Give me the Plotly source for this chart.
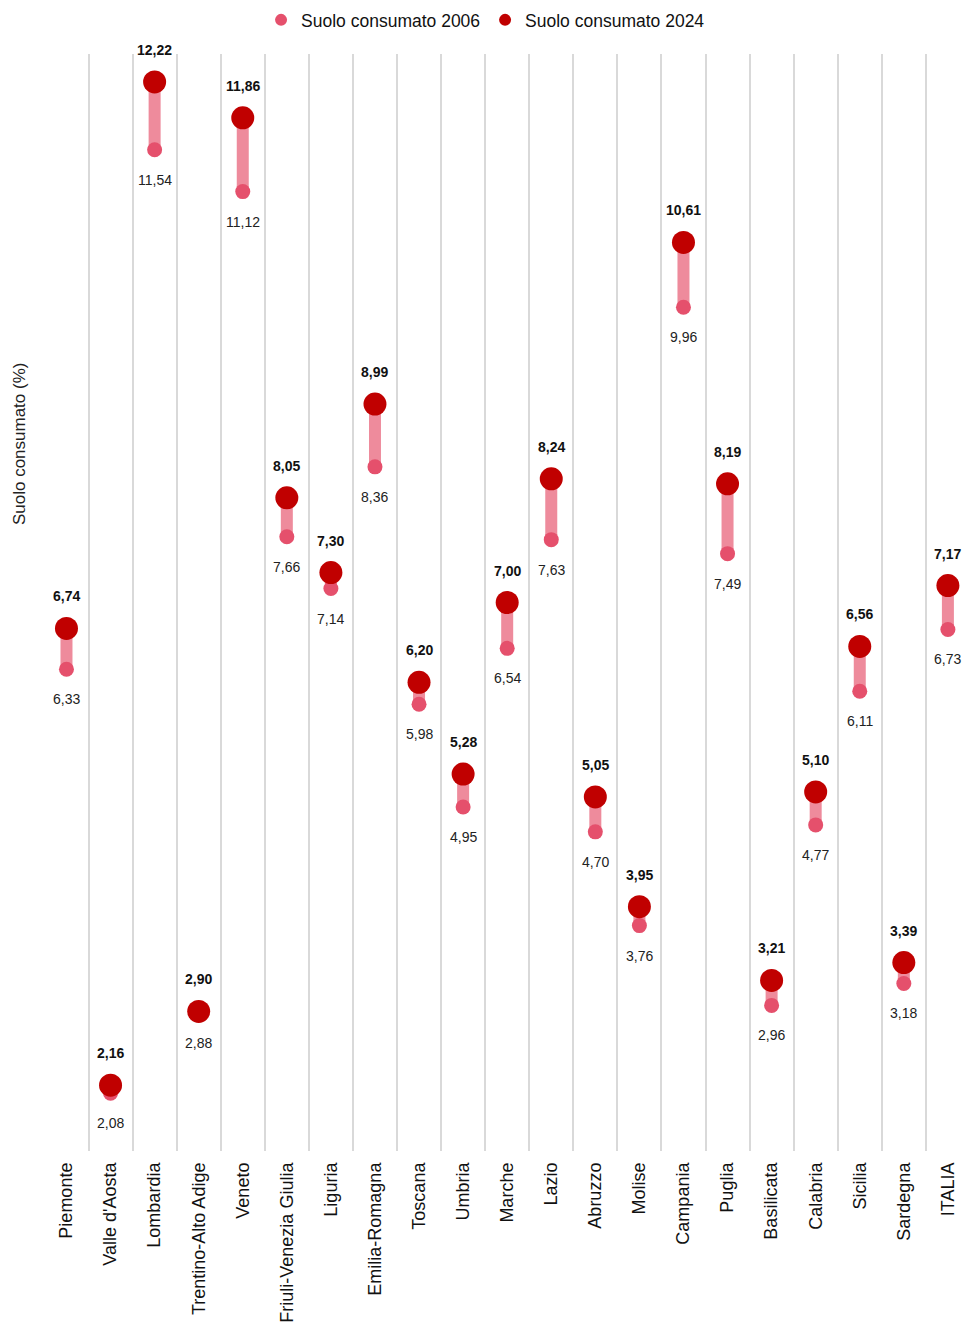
import plotly.graph_objects as go

regions = ["Piemonte", "Valle d'Aosta", "Lombardia", "Trentino-Alto Adige", "Veneto",
           "Friuli-Venezia Giulia", "Liguria", "Emilia-Romagna", "Toscana", "Umbria",
           "Marche", "Lazio", "Abruzzo", "Molise", "Campania", "Puglia", "Basilicata",
           "Calabria", "Sicilia", "Sardegna", "ITALIA"]
values_2006 = [6.33, 2.08, 11.54, 2.88, 11.12, 7.66, 7.14, 8.36, 5.98, 4.95, 6.54, 7.63,
               4.70, 3.76, 9.96, 7.49, 2.96, 4.77, 6.11, 3.18, 6.73]
values_2024 = [6.74, 2.16, 12.22, 2.90, 11.86, 8.05, 7.30, 8.99, 6.20, 5.28, 7.00, 8.24,
               5.05, 3.95, 10.61, 8.19, 3.21, 5.10, 6.56, 3.39, 7.17]

FONT = "Liberation Sans Narrow, Arial Narrow, Liberation Sans, Arial, sans-serif"
C06 = "#E5506C"
C24 = "#C00000"
CBAR = "#EE8B9C"

def fmt(v):
    return f"{v:.2f}".replace(".", ",")

fig = go.Figure()

# connecting bars
bx, by = [], []
for r, a, b in zip(regions, values_2006, values_2024):
    bx += [r, r, None]
    by += [a, b, None]
fig.add_trace(go.Scatter(x=bx, y=by, mode="lines", line=dict(color=CBAR, width=12),
                         showlegend=False, hoverinfo="skip"))

fig.add_trace(go.Scatter(x=regions, y=values_2006, mode="markers", name="Suolo consumato 2006",
                         marker=dict(color=C06, size=15)))
fig.add_trace(go.Scatter(x=regions, y=values_2024, mode="markers", name="Suolo consumato 2024",
                         marker=dict(color=C24, size=23)))

for r, a, b in zip(regions, values_2006, values_2024):
    fig.add_annotation(x=r, y=b, text=f"<b>{fmt(b)}</b>", showarrow=False, yshift=32,
                       font=dict(size=14, color="#111111", family=FONT))
    fig.add_annotation(x=r, y=a, text=fmt(a), showarrow=False, yshift=-30,
                       font=dict(size=14, color="#222222", family=FONT))

fig.add_annotation(xref="paper", yref="paper", x=-0.026, y=(1154 - 445) / 1100,
                   text="Suolo consumato (%)", textangle=-90, showarrow=False,
                   xanchor="center", yanchor="middle",
                   font=dict(size=17, color="#222222", family=FONT))

fig.update_layout(
    width=962, height=1323,
    margin=dict(l=44, r=0, t=54, b=169),
    plot_bgcolor="white", paper_bgcolor="white",
    font=dict(family=FONT, color="#222222"),
    showlegend=True,
    legend=dict(orientation="h", x=0.481, xanchor="center", y=1.031, yanchor="middle",
                font=dict(size=17.5, family=FONT, color="#111111"), itemsizing="constant",
                traceorder="normal"),
    xaxis=dict(type="category", tickson="boundaries", showgrid=True, gridcolor="#D9D9D9",
               gridwidth=2, ticks="", tickangle=-90, range=[-0.51, 20.32],
               ticklabelstandoff=7,
               tickfont=dict(size=18, family=FONT, color="#111111"), zeroline=False,
               showline=False),
    yaxis=dict(range=[1.5, 12.5], showgrid=False, showticklabels=False, zeroline=False,
               showline=False, ticks=""),
)

fig.write_html("out.html", config={"displayModeBar": False},
               post_script="document.body.style.margin='0px';document.body.style.overflow='hidden';")
